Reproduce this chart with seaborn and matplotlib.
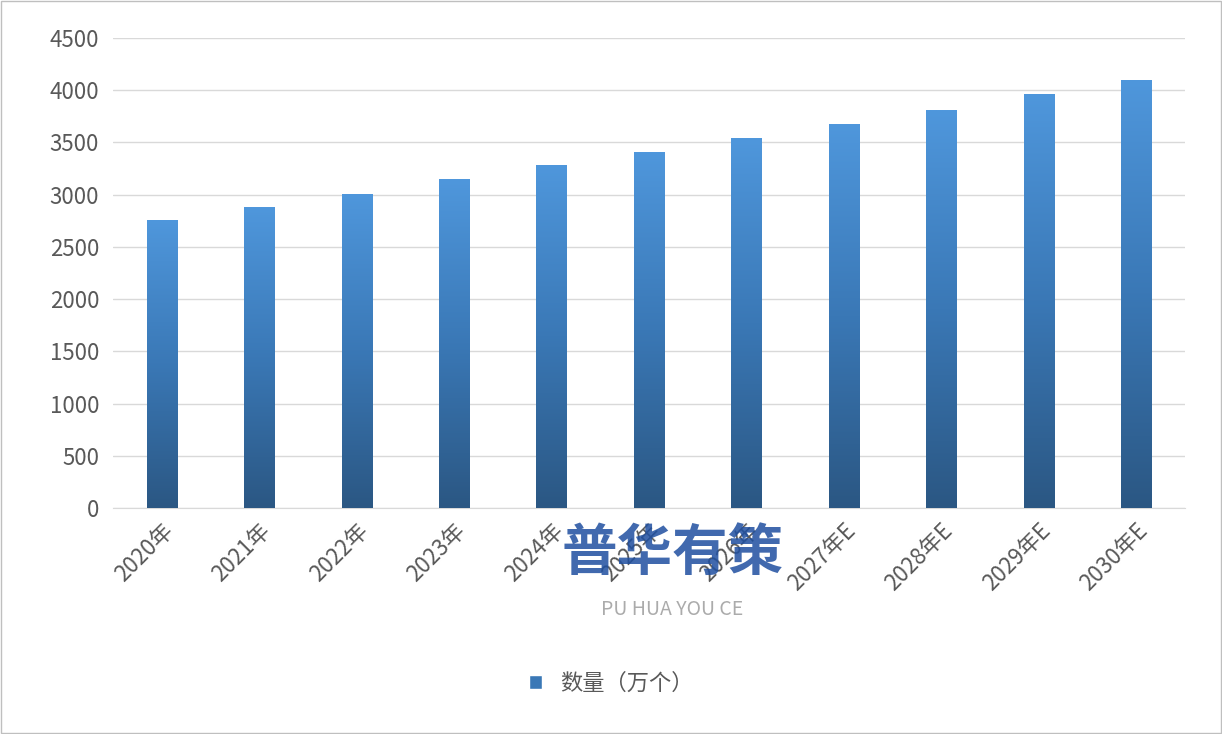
import numpy as np
import matplotlib
matplotlib.use("Agg")
import matplotlib.pyplot as plt
import seaborn as sns
from matplotlib.colors import LinearSegmentedColormap
from matplotlib.patches import Patch

years = ["2020年", "2021年", "2022年", "2023年", "2024年", "2025年",
         "2026年", "2027年E", "2028年E", "2029年E", "2030年E"]
counts = [2760, 2880, 3010, 3150, 3285, 3405, 3540, 3675, 3810, 3965, 4100]
series_name = "数量（万个）"

sns.set_style("white")
plt.rcParams['font.family'] = ['Noto Sans CJK SC', 'DejaVu Sans']

fig = plt.figure(figsize=(12.22, 7.34), dpi=100)
ax = fig.add_axes([113/1222, 1 - 508/734, 1072/1222, 470/734])

sns.barplot(x=years, y=counts, color="#3f7fc0", width=0.31, ax=ax)

# vertical gradient on each bar: dark at bottom, lighter at top
cmap = LinearSegmentedColormap.from_list("bars", ["#2b5783", "#3a78b6", "#4f97dc"])
grad = np.linspace(0, 1, 256).reshape(-1, 1)
for p in ax.patches:
    x0, w, h = p.get_x(), p.get_width(), p.get_height()
    im = ax.imshow(grad, cmap=cmap, origin="lower", aspect="auto",
                   extent=[x0, x0 + w, 0, h], zorder=3)
    im.set_clip_path(p)
    p.set_alpha(0)

ax.set_xlim(-0.5, len(years) - 0.5)
ax.set_ylim(0, 4500)
ax.set_yticks(range(0, 4501, 500))
ax.grid(axis="y", color="#d9d9d9", linewidth=1)
ax.set_axisbelow(True)
for s in ["top", "right", "left"]:
    ax.spines[s].set_visible(False)
ax.spines["bottom"].set_color("#d9d9d9")
ax.tick_params(axis="y", labelsize=16, labelcolor="#595959", length=0, pad=10)
ax.tick_params(axis="x", labelsize=16, labelcolor="#595959", length=0, pad=8)
plt.setp(ax.get_xticklabels(), rotation=45, ha="right", rotation_mode="anchor")

# watermark
fig.text(0.55, 0.245, "普华有策", fontsize=40, color="#1f4fa0", alpha=0.85,
         ha="center", va="center", fontweight="bold")
fig.text(0.55, 0.17, "PU HUA YOU CE", fontsize=14, color="#888888", alpha=0.7,
         ha="center", va="center")

fig.legend(handles=[Patch(facecolor="#3a78b6", label=series_name)],
           loc="center", bbox_to_anchor=(0.5, 1 - 683/734), frameon=False,
           fontsize=16, handlelength=0.6, handleheight=0.6, labelcolor="#595959")

fig.patches.append(plt.Rectangle((0.001, 0.001), 0.998, 0.998, transform=fig.transFigure,
                                 fill=False, edgecolor="#bfbfbf", linewidth=1))

fig.savefig("out.png", dpi=100)
